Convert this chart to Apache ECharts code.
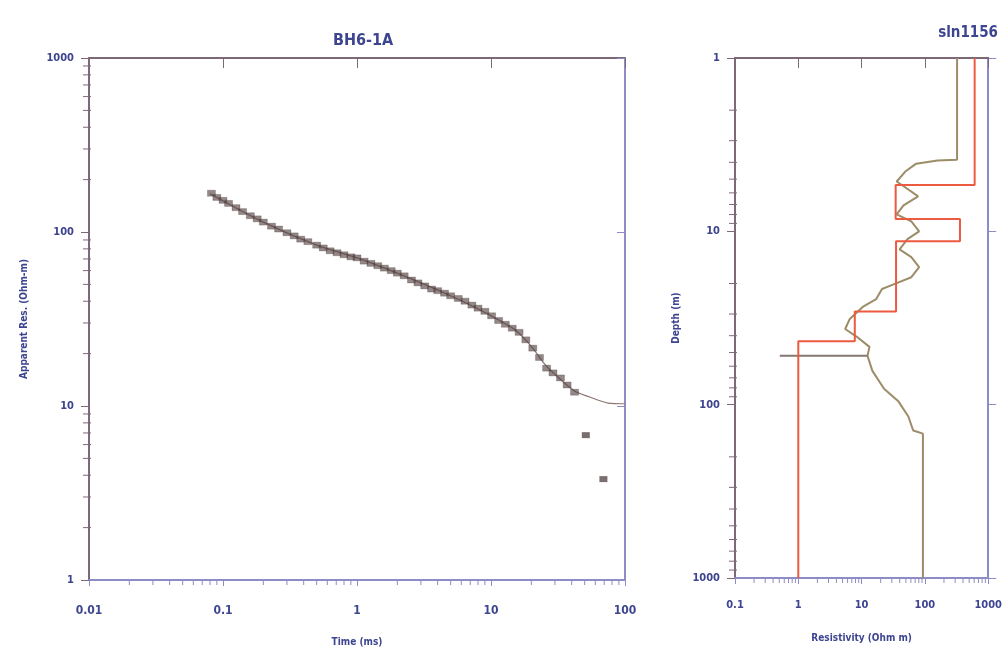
<!DOCTYPE html>
<html>
<head>
<meta charset="utf-8">
<script src="https://cdn.jsdelivr.net/npm/echarts@6/dist/echarts.min.js"></script>
<style>html,body{margin:0;padding:0;background:#fff;}#c{width:1005px;height:657px;}</style>
</head>
<body>
<div id="c"></div>
<script>
// ---- Left panel: apparent resistivity sounding (BH6-1A) ----
const timeMs = [0.082,0.09,0.1,0.11,0.125,0.14,0.16,0.18,0.2,0.23,0.26,0.3,0.34,0.38,0.43,0.5,0.56,0.63,0.71,0.8,0.9,1.0,1.13,1.27,1.43,1.6,1.8,2.0,2.25,2.55,2.85,3.2,3.6,4.0,4.5,5.0,5.7,6.4,7.2,8.0,9.0,10.1,11.4,12.8,14.4,16.2,18.2,20.5,23,26,29,33,37,42];
const appRes = [167,158,152,146,138,131,124,119,114,108,104,99,95,91,88,84,81,78,76,74,72,71,68,66,64,62,60,58,56,53,51,49,47,46,44.5,43,41.5,40,38,36.5,35,33,31,29.5,28,26.5,24,21.5,19,16.5,15.5,14.5,13.2,12];
const outlierTime = [51,69];
const outlierRes = [6.8,3.8];
const fitTime = [0.08,0.2,0.5,1,2,5,10,15,20,25,30,42,54,75,100];
const fitRes = [166,114,84,71,58,43,33,27.5,22,17.5,15.2,12.2,11.3,10.4,10.3];
const timeTicks = [0.01,0.1,1,10,100];
const resTicks = [1,10,100,1000];

// ---- Right panel: layered model (sln1156) ----
const layerRes = [610,34.5,358,35,7.8,1.0];
const layerBoundaries = [5.4,8.5,11.4,29,43];
const smoothRes = [322,322,158,72.8,49,35.8,54.7,78,45.9,35.8,61,81,53,39.8,61,81,61,35.8,21,17,10.4,6.5,5.5,8.4,13.3,12.4,14.8,22.6,38.4,54.7,65.3,93,93];
const smoothDepth = [1,3.86,3.9,4.07,4.52,5.16,5.74,6.29,7.09,7.98,8.76,10,11.1,12.7,14.1,16.1,18.4,19.9,21.5,24.6,27.3,32,36.6,40.6,46.4,52.3,63.8,81,96,117,141,147,1000];
const spikeRes = [0.51,12.4];
const spikeDepth = [52.3,52.3];
const modelResTicks = [0.1,1,10,100,1000];
const depthTicks = [1,10,100,1000];

const zip = (a,b)=>a.map((v,i)=>[v,b[i]]);
const stepPts = [];
(function(){
  const tops=[1].concat(layerBoundaries), bots=layerBoundaries.concat([1000]);
  layerRes.forEach((r,i)=>{stepPts.push([r,tops[i]]);stepPts.push([r,bots[i]]);});
})();

function minorVals(loExp, hiExp){
  const out=[];
  for(let k=loExp;k<hiExp;k++){for(let m=2;m<=9;m++){out.push(+(m*Math.pow(10,k)).toPrecision(6));}}
  return out;
}

const C_TL='#7d6878', C_BR='#8d8cc6', C_TXT='#3d4590';
const FONT='DejaVu Sans Condensed, DejaVu Sans, Liberation Sans, sans-serif';
const fmt = v => String(+(+v).toPrecision(6));

function tickRender(dir){
  return function(params, api){
    const p = api.coord([api.value(0), api.value(1)]);
    let shape;
    if(dir==='x') shape={x1:p[0],y1:p[1],x2:p[0],y2:p[1]+5};
    else shape={x1:p[0]-6,y1:p[1],x2:p[0]+2,y2:p[1]};
    return {type:'line', shape, style:{stroke:dir==='x'?C_BR:C_TL, lineWidth:1}};
  };
}

function xAx(grid, min, max, opt){
  return Object.assign({
    type:'log', logBase:10, gridIndex:grid, min, max,
    splitLine:{show:false}, minorTick:{show:false}, minorSplitLine:{show:false},
    axisLine:{lineStyle:{color:C_BR,width:2}},
    axisTick:{show:true,inside:false,length:6,lineStyle:{color:C_BR,width:1}},
    axisLabel:{margin:25,fontSize:12,fontWeight:'bold',color:C_TXT,fontFamily:FONT,formatter:fmt},
    nameLocation:'middle', nameTextStyle:{fontSize:10,fontWeight:'bold',color:C_TXT,fontFamily:FONT}
  }, opt||{});
}
function yAx(grid, min, max, opt){
  return Object.assign({
    type:'log', logBase:10, gridIndex:grid, min, max,
    splitLine:{show:false}, minorTick:{show:false}, minorSplitLine:{show:false},
    axisLine:{lineStyle:{color:C_TL,width:2}},
    axisTick:{show:true,inside:false,length:8,lineStyle:{color:C_TL,width:1}},
    axisLabel:{margin:15,fontSize:11,fontWeight:'bold',color:C_TXT,fontFamily:FONT,formatter:fmt},
    nameLocation:'middle', nameTextStyle:{fontSize:10,fontWeight:'bold',color:C_TXT,fontFamily:FONT}
  }, opt||{});
}

const chart = echarts.init(document.getElementById('c'), null, {renderer:'canvas'});
chart.setOption({
  backgroundColor:'#ffffff',
  animation:false,
  title:[
    {text:'BH6-1A', left:358, top:28, textAlign:'center', textStyle:{fontSize:16,fontWeight:'bold',color:C_TXT,fontFamily:FONT}},
    {text:'sln1156', right:2, top:21, textStyle:{fontSize:15,fontWeight:'bold',color:C_TXT,fontFamily:FONT}}
  ],
  grid:[
    {left:89, top:58, right:380, bottom:77, containLabel:false},
    {left:735, top:58, right:8, bottom:79, containLabel:false}
  ],
  xAxis:[
    xAx(0,0.01,100,{name:'Time (ms)', nameGap:57}),
    xAx(0,0.01,100,{position:'top', axisLine:{lineStyle:{color:C_TL,width:2}}, axisTick:{show:true,inside:true,length:10,lineStyle:{color:C_TL}}, axisLabel:{show:false}}),
    xAx(1,0.1,1000,{name:'Resistivity (Ohm m)', nameGap:55, axisLabel:{margin:22,fontSize:11,fontWeight:'bold',color:C_TXT,fontFamily:FONT,formatter:fmt}}),
    xAx(1,0.1,1000,{position:'top', axisLine:{lineStyle:{color:C_TL,width:2}}, axisTick:{show:true,inside:true,length:10,lineStyle:{color:C_TL}}, axisLabel:{show:false}})
  ],
  yAxis:[
    yAx(0,1,1000,{name:'Apparent Res. (Ohm-m)', nameGap:60}),
    yAx(0,1,1000,{position:'right', axisLine:{lineStyle:{color:C_BR,width:2}}, axisTick:{show:true,inside:true,length:8,lineStyle:{color:C_BR}}, axisLabel:{show:false}}),
    yAx(1,1,1000,{inverse:true, name:'Depth (m)', nameGap:54}),
    yAx(1,1,1000,{inverse:true, position:'right', axisLine:{lineStyle:{color:C_BR,width:2}}, axisTick:{show:true,inside:false,length:8,lineStyle:{color:C_BR}}, axisLabel:{show:false}})
  ],
  series:[
    {type:'line', xAxisIndex:0, yAxisIndex:0, data:zip(fitTime,fitRes), smooth:0.3, showSymbol:false,
     lineStyle:{color:'#8b7670',width:1.2}, silent:true, z:2},
    {type:'scatter', xAxisIndex:0, yAxisIndex:0, data:zip(timeMs,appRes), symbol:'rect', symbolSize:[8,6],
     itemStyle:{color:'rgba(86,68,68,0.8)', borderColor:'rgba(60,45,45,0.6)', borderWidth:0.5}, z:3},
    {type:'scatter', xAxisIndex:0, yAxisIndex:0, data:zip(outlierTime,outlierRes), symbol:'rect', symbolSize:[8,6],
     itemStyle:{color:'rgba(70,55,55,0.9)'}, z:3},
    {type:'custom', xAxisIndex:0, yAxisIndex:0, silent:true, clip:false, renderItem:tickRender('x'),
     data:minorVals(-2,2).map(v=>[v,1])},
    {type:'custom', xAxisIndex:0, yAxisIndex:0, silent:true, clip:false, renderItem:tickRender('y'),
     data:minorVals(0,3).map(v=>[0.01,v])},
    {type:'custom', xAxisIndex:2, yAxisIndex:2, silent:true, clip:false, renderItem:tickRender('x'),
     data:minorVals(-1,3).map(v=>[v,1000])},
    {type:'custom', xAxisIndex:2, yAxisIndex:2, silent:true, clip:false, renderItem:tickRender('y'),
     data:minorVals(0,3).map(v=>[0.1,v])},
    {type:'line', xAxisIndex:2, yAxisIndex:2, data:zip(smoothRes,smoothDepth), showSymbol:false,
     lineStyle:{color:'#9c8c68',width:2}, silent:true, z:3},
    {type:'line', xAxisIndex:2, yAxisIndex:2, data:zip(spikeRes,spikeDepth), showSymbol:false,
     lineStyle:{color:'#857872',width:2}, silent:true, z:3},
    {type:'line', xAxisIndex:2, yAxisIndex:2, data:stepPts, showSymbol:false,
     lineStyle:{color:'#ec5a40',width:2}, silent:true, z:4}
  ]
});
</script>
</body>
</html>
